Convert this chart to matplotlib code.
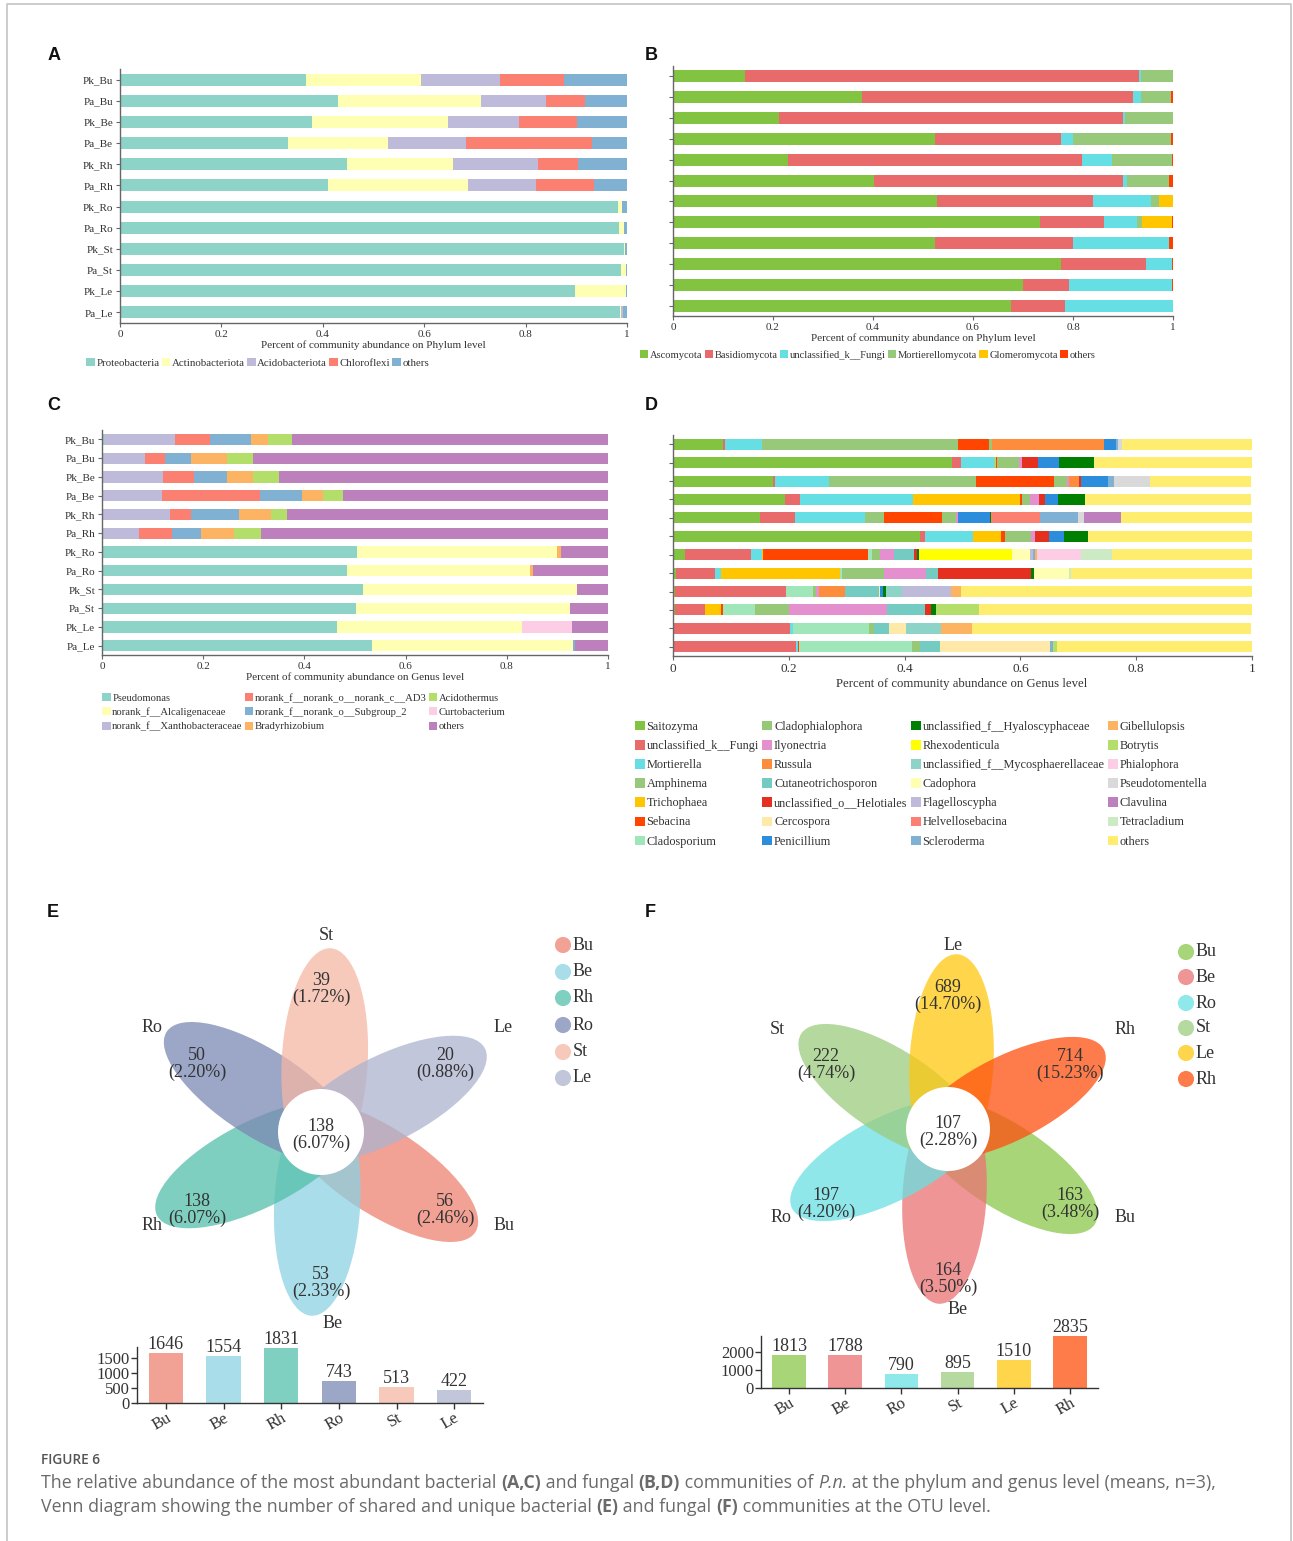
import numpy as np
import matplotlib
matplotlib.use("Agg")
import matplotlib.pyplot as plt
from matplotlib.patches import Ellipse, Circle, Patch
from matplotlib.colors import to_rgb

W, H = 1293, 1541
plt.rcParams['font.family'] = ['Liberation Serif', 'DejaVu Serif']

# ---------------- data ----------------
samples = ["Pk_Bu", "Pa_Bu", "Pk_Be", "Pa_Be", "Pk_Rh", "Pa_Rh",
           "Pk_Ro", "Pa_Ro", "Pk_St", "Pa_St", "Pk_Le", "Pa_Le"]

# A: bacteria, phylum
phylum_bac = ["Proteobacteria", "Actinobacteriota", "Acidobacteriota", "Chloroflexi", "others"]
proteobacteria = [0.367, 0.430, 0.379, 0.332, 0.448, 0.411, 0.982, 0.985, 0.994, 0.988, 0.897, 0.987]
actinobacteriota = [0.226, 0.282, 0.267, 0.196, 0.209, 0.276, 0.009, 0.009, 0.003, 0.010, 0.101, 0.002]
acidobacteriota = [0.157, 0.128, 0.140, 0.155, 0.167, 0.134, 0, 0, 0, 0, 0, 0.003]
chloroflexi = [0.126, 0.078, 0.115, 0.247, 0.079, 0.114, 0, 0, 0, 0, 0, 0]
others_a = [0.124, 0.082, 0.099, 0.070, 0.097, 0.065, 0.009, 0.006, 0.003, 0.002, 0.002, 0.008]

# B: fungi, phylum
phylum_fun = ["Ascomycota", "Basidiomycota", "unclassified_k__Fungi", "Mortierellomycota",
              "Glomeromycota", "others"]
ascomycota = [0.144, 0.378, 0.212, 0.524, 0.230, 0.402, 0.528, 0.734, 0.524, 0.776, 0.699, 0.676]
basidiomycota = [0.787, 0.542, 0.687, 0.252, 0.588, 0.497, 0.312, 0.128, 0.275, 0.170, 0.093, 0.107]
unclassified_fungi = [0.004, 0.016, 0.004, 0.024, 0.059, 0.009, 0.115, 0.066, 0.192, 0.051, 0.205, 0.216]
mortierellomycota = [0.065, 0.060, 0.097, 0.196, 0.121, 0.083, 0.016, 0.010, 0, 0, 0, 0]
glomeromycota = [0, 0, 0, 0, 0, 0.001, 0.029, 0.060, 0.001, 0, 0, 0]
others_b = [0.001, 0.004, 0.001, 0.004, 0.002, 0.008, 0.001, 0.002, 0.008, 0.003, 0.003, 0.001]

# C: bacteria, genus
genus_bac = ["Pseudomonas", "norank_f__Alcaligenaceae", "norank_f__Xanthobacteraceae",
             "norank_f__norank_o__norank_c__AD3", "norank_f__norank_o__Subgroup_2",
             "Bradyrhizobium", "Acidothermus", "Curtobacterium", "others"]
pseudomonas = [0.003, 0, 0, 0, 0, 0, 0.504, 0.484, 0.516, 0.501, 0.464, 0.534]
alcaligenaceae = [0, 0, 0, 0, 0, 0, 0.396, 0.362, 0.423, 0.423, 0.366, 0.397]
xanthobacteraceae = [0.142, 0.085, 0.120, 0.118, 0.134, 0.074, 0, 0, 0, 0, 0, 0]
ad3 = [0.068, 0.040, 0.062, 0.195, 0.041, 0.065, 0, 0, 0, 0, 0, 0]
subgroup_2 = [0.082, 0.051, 0.065, 0.082, 0.096, 0.057, 0, 0, 0, 0, 0, 0.003]
bradyrhizobium = [0.033, 0.072, 0.052, 0.041, 0.063, 0.065, 0.008, 0.005, 0, 0, 0, 0]
acidothermus = [0.048, 0.051, 0.051, 0.040, 0.032, 0.053, 0, 0, 0, 0, 0, 0]
curtobacterium = [0, 0, 0, 0, 0, 0, 0, 0, 0, 0, 0.098, 0]
others_c = [0.625, 0.702, 0.650, 0.524, 0.634, 0.686, 0.092, 0.149, 0.061, 0.076, 0.072, 0.066]

# D: fungi, genus
genus_fun = ["Saitozyma", "unclassified_k__Fungi", "Mortierella", "Amphinema", "Trichophaea",
             "Sebacina", "Cladosporium", "Cladophialophora", "Ilyonectria", "Russula",
             "Cutaneotrichosporon", "unclassified_o__Helotiales", "Cercospora", "Penicillium",
             "unclassified_f__Hyaloscyphaceae", "Rhexodenticula", "unclassified_f__Mycosphaerellaceae",
             "Cadophora", "Flagelloscypha", "Helvellosebacina", "Scleroderma", "Gibellulopsis",
             "Botrytis", "Phialophora", "Pseudotomentella", "Clavulina", "Tetracladium", "others"]
saitozyma = [0.086, 0.482, 0.172, 0.194, 0.150, 0.427, 0.021, 0.006, 0.003, 0.003, 0, 0]
unc_k_fungi = [0.003, 0.015, 0.004, 0.025, 0.060, 0.009, 0.114, 0.066, 0.193, 0.052, 0.202, 0.213]
mortierella = [0.065, 0.059, 0.094, 0.195, 0.121, 0.082, 0.019, 0.011, 0, 0, 0.005, 0.003]
amphinema = [0.338, 0, 0.253, 0, 0.034, 0, 0, 0, 0, 0, 0, 0]
trichophaea = [0, 0.002, 0, 0.186, 0, 0.049, 0.002, 0.206, 0, 0.028, 0, 0]
sebacina = [0.054, 0.002, 0.135, 0.003, 0.100, 0.006, 0.181, 0, 0, 0.004, 0, 0.002]
cladosporium = [0, 0, 0, 0, 0, 0, 0.007, 0.003, 0.046, 0.054, 0.132, 0.194]
cladophialophora = [0.005, 0.038, 0.023, 0.014, 0.024, 0.046, 0.014, 0.073, 0.005, 0.059, 0.008, 0.014]
ilyonectria = [0, 0.005, 0.003, 0.015, 0.003, 0.006, 0.024, 0.072, 0.006, 0.169, 0, 0]
russula = [0.194, 0, 0.018, 0, 0, 0, 0, 0, 0.044, 0, 0, 0]
cutaneotrichosporon = [0, 0, 0, 0, 0, 0, 0.035, 0.021, 0.059, 0.066, 0.026, 0.035]
helotiales = [0, 0.028, 0.003, 0.011, 0, 0.025, 0.005, 0.160, 0, 0.011, 0, 0]
cercospora = [0, 0, 0, 0, 0, 0, 0, 0, 0.002, 0, 0.029, 0.190]
penicillium = [0.020, 0.036, 0.046, 0.022, 0.055, 0.026, 0, 0, 0.005, 0, 0, 0]
hyaloscyphaceae = [0, 0.060, 0.001, 0.047, 0.003, 0.040, 0.003, 0.005, 0.005, 0.009, 0, 0]
rhexodenticula = [0, 0, 0, 0, 0, 0, 0.160, 0, 0, 0, 0, 0]
mycosphaerellaceae = [0, 0, 0, 0, 0, 0, 0, 0, 0.028, 0, 0.061, 0]
cadophora = [0, 0, 0, 0, 0, 0, 0.032, 0.061, 0, 0, 0, 0]
flagelloscypha = [0, 0, 0, 0, 0, 0, 0.005, 0, 0.084, 0, 0, 0]
helvellosebacina = [0, 0, 0, 0, 0.084, 0, 0, 0, 0, 0, 0, 0]
scleroderma = [0.003, 0, 0.010, 0, 0.065, 0, 0.004, 0, 0, 0, 0, 0.005]
gibellulopsis = [0, 0, 0, 0, 0, 0, 0.003, 0, 0.018, 0, 0.054, 0]
botrytis = [0, 0, 0, 0, 0, 0, 0, 0, 0, 0.074, 0, 0.007]
phialophora = [0, 0, 0, 0, 0, 0, 0.076, 0, 0, 0, 0, 0]
pseudotomentella = [0.007, 0, 0.061, 0, 0.010, 0, 0, 0, 0, 0, 0, 0]
clavulina = [0, 0, 0, 0, 0.065, 0, 0, 0, 0, 0, 0, 0]
tetracladium = [0, 0, 0, 0, 0, 0, 0.054, 0.003, 0, 0, 0, 0]
others_d = [0.225, 0.273, 0.176, 0.287, 0.226, 0.284, 0.241, 0.313, 0.503, 0.471, 0.482, 0.337]

# E: bacterial OTU venn
e_groups = ["Bu", "Be", "Rh", "Ro", "St", "Le"]
e_unique = [56, 53, 138, 50, 39, 20]
e_unique_pct = ["2.46%", "2.33%", "6.07%", "2.20%", "1.72%", "0.88%"]
e_core, e_core_pct = 138, "6.07%"
e_totals = [1646, 1554, 1831, 743, 513, 422]

# F: fungal OTU venn
f_groups = ["Bu", "Be", "Ro", "St", "Le", "Rh"]
f_unique = [163, 164, 197, 222, 689, 714]
f_unique_pct = ["3.48%", "3.50%", "4.20%", "4.74%", "14.70%", "15.23%"]
f_core, f_core_pct = 107, "2.28%"
f_totals = [1813, 1788, 790, 895, 1510, 2835]

# ---------------- colours ----------------
set3 = ["#8dd3c7", "#ffffb3", "#bebada", "#fb8072", "#80b1d3", "#fdb462",
        "#b3de69", "#fccde5", "#d9d9d9", "#bc80bd", "#ccebc5", "#ffed6f"]
col_a = set3[:5]
col_b = ["#82c341", "#e96a6a", "#65dfe3", "#98c97b", "#ffc600", "#ff3e00"]
col_c = set3[:8] + ["#bc80bd"]
col_d = ["#82c341", "#e96a6a", "#65dfe3", "#98c97b", "#ffc600", "#ff4500", "#9fe6b8",
         "#96c878", "#e48fce", "#fd8d3c", "#74cbc1", "#e52f1f", "#ffe9a8", "#2b8ddc",
         "#008000", "#ffff00"] + set3
e_colors = ["#f2a195", "#a9dde9", "#7fd0c0", "#9ca6c6", "#f7c9bb", "#c1c6db"]
f_colors = ["#a8d578", "#ef9595", "#8fe8ea", "#b5d99e", "#fed54b", "#fe7b4a"]


def px_rect(x0, y0, x1, y1):
    return [x0 / W, 1 - y1 / H, (x1 - x0) / W, (y1 - y0) / H]


def fx(x):
    return x / W


def fy(y):
    return 1 - y / H


fig = plt.figure(figsize=(W / 100, H / 100), dpi=100)

# outer frame
fig.add_artist(plt.Line2D([fx(7), fx(7), fx(1291), fx(1291)], [0, fy(4), fy(4), 0],
                          color="#c4c4c4", lw=1.2))


def stacked(rect, series, colors, height, ylabels, tick_fs):
    ax = fig.add_axes(px_rect(*rect))
    y = np.arange(len(samples))
    left = np.zeros(len(samples))
    for vals, c in zip(series, colors):
        vals = np.array(vals, dtype=float)
        ax.barh(y, vals, left=left, height=height, color=c, edgecolor="none")
        left += vals
    ax.set_xlim(0, 1)
    ax.set_ylim(len(samples) - 0.5, -0.5)
    ax.set_xticks([0, 0.2, 0.4, 0.6, 0.8, 1.0])
    ax.set_xticklabels(["0", "0.2", "0.4", "0.6", "0.8", "1"])
    ax.set_yticks(y)
    ax.set_yticklabels(samples if ylabels else [])
    for s in ["top", "right"]:
        ax.spines[s].set_visible(False)
    for s in ["left", "bottom"]:
        ax.spines[s].set_color("#666666")
        ax.spines[s].set_linewidth(1.0)
    ax.tick_params(colors="#666666", labelcolor="#333333", length=3, width=0.8,
                   labelsize=tick_fs, pad=2)
    return ax


def legend(handles_cols, handles_labels, x, y, ncol, fs, loc, spacing=0.4, colsp=0.3):
    hs = [Patch(facecolor=c, edgecolor="none", label=l) for c, l in zip(handles_cols, handles_labels)]
    fig.legend(handles=hs, loc=loc, bbox_to_anchor=(fx(x), fy(y)), ncol=ncol, frameon=False,
               fontsize=fs, handlelength=0.8, handleheight=0.8, handletextpad=0.15,
               columnspacing=colsp, borderpad=0, borderaxespad=0, labelspacing=spacing,
               labelcolor="#333333")


# ---- A ----
stacked((120, 69, 627, 323),
        [proteobacteria, actinobacteriota, acidobacteriota, chloroflexi, others_a],
        col_a, 0.57, True, 8)
fig.text(fx(373), fy(345), "Percent of community abundance on Phylum level", ha="center",
         va="center", fontsize=8, color="#333333")
legend(col_a, phylum_bac, 86, 363, 5, 7.8, "center left", colsp=0.2)

# ---- B ----
stacked((673, 66, 1173, 316),
        [ascomycota, basidiomycota, unclassified_fungi, mortierellomycota, glomeromycota, others_b],
        col_b, 0.57, False, 8)
fig.text(fx(923), fy(338), "Percent of community abundance on Phylum level", ha="center",
         va="center", fontsize=8, color="#333333")
legend(col_b, phylum_fun, 640, 355, 6, 7.6, "center left", colsp=0.2)

# ---- C ----
stacked((102, 430, 608, 655),
        [pseudomonas, alcaligenaceae, xanthobacteraceae, ad3, subgroup_2, bradyrhizobium,
         acidothermus, curtobacterium, others_c],
        col_c, 0.6, True, 8)
fig.text(fx(355), fy(677), "Percent of community abundance on Genus level", ha="center",
         va="center", fontsize=8, color="#333333")
legend(col_c, genus_bac, 102, 693, 3, 7.7, "upper left", spacing=0.42, colsp=0.2)

# ---- D ----
stacked((673, 435, 1252, 656),
        [saitozyma, unc_k_fungi, mortierella, amphinema, trichophaea, sebacina, cladosporium,
         cladophialophora, ilyonectria, russula, cutaneotrichosporon, helotiales, cercospora,
         penicillium, hyaloscyphaceae, rhexodenticula, mycosphaerellaceae, cadophora,
         flagelloscypha, helvellosebacina, scleroderma, gibellulopsis, botrytis, phialophora,
         pseudotomentella, clavulina, tetracladium, others_d],
        col_d, 0.6, False, 9.5)
fig.text(fx(962), fy(684), "Percent of community abundance on Genus level", ha="center",
         va="center", fontsize=9.2, color="#333333")
legend(col_d, genus_fun, 635, 721, 4, 8.8, "upper left", spacing=0.58, colsp=0.28)

# ---- panel letters ----
for lab, x, y in [("A", 54, 55), ("B", 651, 55), ("C", 54, 405), ("D", 651, 405),
                  ("E", 53, 913), ("F", 650, 913)]:
    fig.text(fx(x), fy(y), lab, ha="center", va="center", fontsize=13, fontweight="bold",
             family="Liberation Sans", color="#111111")

ALPHA = 0.75


def base(c):
    r = np.array(to_rgb(c))
    return tuple(np.clip((r - (1 - ALPHA)) / ALPHA, 0, 1))


def venn(region, cx, cy, groups, colors, angles, dist, a, b, r, unique, pct, core, core_pct,
         num_pos, lab_pos, leg_x, leg_y):
    x0, y0, x1, y1 = region
    ax = fig.add_axes(px_rect(*region))
    ax.set_xlim(x0, x1)
    ax.set_ylim(y1, y0)
    ax.axis("off")
    for c, ang in zip(colors, angles):
        t = np.deg2rad(ang)
        ax.add_patch(Ellipse((cx + dist * np.cos(t), cy - dist * np.sin(t)), 2 * a, 2 * b,
                             angle=-ang, facecolor=base(c), alpha=ALPHA, edgecolor="none"))
    ax.add_patch(Circle((cx, cy), r, facecolor="white", edgecolor="none"))
    ax.text(cx, cy + 3, f"{core}\n({core_pct})", ha="center", va="center", fontsize=13,
            color="#333333", linespacing=1.0)
    for g, n, p, (nx, ny), (lx, ly) in zip(groups, unique, pct, num_pos, lab_pos):
        ax.text(nx, ny, f"{n}\n({p})", ha="center", va="center", fontsize=13,
                color="#333333", linespacing=1.0)
        ax.text(lx, ly, g, ha="center", va="center", fontsize=13, color="#333333")
    for i, (g, c) in enumerate(zip(groups, colors)):
        ax.scatter([leg_x], [leg_y[i]], s=135, color=c, edgecolor="none")
        ax.text(leg_x + 10, leg_y[i], g, ha="left", va="center", fontsize=13, color="#333333")


def counts(rect, totals, groups, colors, ymax, yticks):
    ax = fig.add_axes(px_rect(*rect))
    xs = np.arange(len(totals))
    ax.bar(xs, totals, width=0.6, color=colors, edgecolor="none")
    for x, v in zip(xs, totals):
        ax.text(x, v, str(v), ha="center", va="bottom", fontsize=13, color="#333333")
    ax.set_xlim(-0.5, 5.5)
    ax.set_ylim(0, ymax)
    ax.set_yticks(yticks)
    ax.set_xticks(xs)
    ax.set_xticklabels(groups, rotation=30, ha="right", rotation_mode="anchor")
    for s in ["top", "right"]:
        ax.spines[s].set_visible(False)
    for s in ["left", "bottom"]:
        ax.spines[s].set_color("#333333")
        ax.spines[s].set_linewidth(1.0)
    ax.tick_params(colors="#333333", labelcolor="#333333", length=4, width=1,
                   labelsize=12, pad=1)


# ---- E ----
venn((0, 900, 646, 1340), 321, 1132, e_groups, e_colors,
     [-33, -93, 207, 147, 87, 27], 71, 113, 43, 43,
     e_unique, e_unique_pct, e_core, e_core_pct,
     [(445, 1210), (321, 1283), (197, 1210), (197, 1064), (321, 989), (445, 1064)],
     [(504, 1225), (333, 1324), (152, 1225), (152, 1027), (326, 936), (503, 1027)],
     563, [945, 972, 998, 1025, 1052, 1078])
counts((137, 1347, 483, 1403), e_totals, e_groups, e_colors, 1850, [0, 500, 1000, 1500])

# ---- F ----
venn((646, 900, 1293, 1340), 948, 1129, f_groups, f_colors,
     [-33, -93, 207, 147, 87, 27], 67, 108, 42, 42,
     f_unique, f_unique_pct, f_core, f_core_pct,
     [(1070, 1204), (948, 1279), (826, 1204), (826, 1065), (948, 996), (1070, 1065)],
     [(1125, 1217), (958, 1310), (781, 1217), (777, 1030), (953, 945), (1125, 1030)],
     1186, [952, 977, 1003, 1028, 1053, 1079])
counts((761, 1336, 1098, 1388), f_totals, f_groups, f_colors, 2850, [0, 1000, 2000])

# ---- caption ----
renderer = fig.canvas.get_renderer()


def rich(x, y, parts, size, color):
    for txt, kw in parts:
        t = fig.text(fx(x), fy(y), txt, fontsize=size, color=color, ha="left", va="center",
                     family="Open Sans", **kw)
        x += t.get_window_extent(renderer=renderer).width


fig.text(fx(41), fy(1460), "FIGURE 6", fontsize=9.8, color="#555555", family="Open Sans",
         fontweight="semibold", ha="left", va="center")
B = {"fontweight": "bold"}
N = {}
I = {"fontstyle": "italic"}
rich(41, 1483, [("The relative abundance of the most abundant bacterial ", N), ("(A,C)", B),
                (" and fungal ", N), ("(B,D)", B), (" communities of ", N), ("P.n.", I),
                (" at the phylum and genus level (means, n=3),", N)], 12.8, "#6a6a6a")
rich(41, 1507, [("Venn diagram showing the number of shared and unique bacterial ", N),
                ("(E)", B), (" and fungal ", N), ("(F)", B),
                (" communities at the OTU level.", N)], 12.8, "#6a6a6a")

fig.savefig("out.png", dpi=100)
